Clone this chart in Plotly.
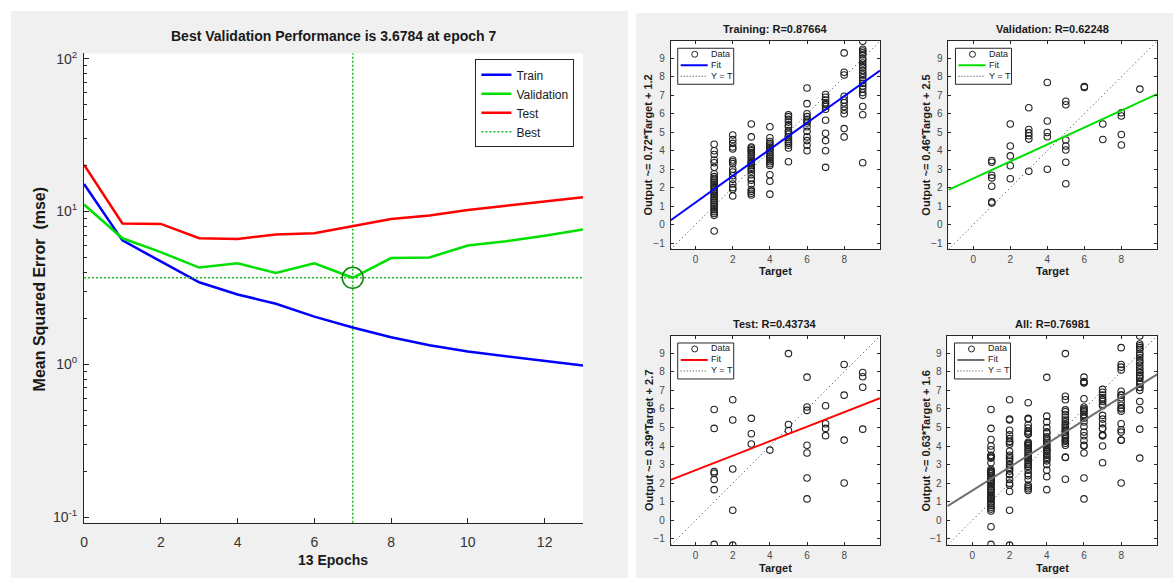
import plotly.graph_objects as go

W, H = 1173, 582
FONT = "Liberation Sans, Arial, Helvetica, sans-serif"

# ---------------- Performance plot data ----------------
epochs = [0, 1, 2, 3, 4, 5, 6, 7, 8, 9, 10, 11, 12, 13]
train_mse = [15.1, 6.46, 4.71, 3.44, 2.86, 2.49, 2.05, 1.74, 1.50, 1.33, 1.21, 1.13, 1.06, 0.98]
val_mse = [11.1, 6.67, 5.41, 4.29, 4.58, 3.95, 4.58, 3.6784, 4.95, 5.0, 5.98, 6.39, 6.94, 7.62]
test_mse = [20.2, 8.33, 8.28, 6.67, 6.6, 7.06, 7.21, 7.97, 8.91, 9.41, 10.2, 10.9, 11.6, 12.4]
best_epoch = 7
best_perf = 3.6784
perf_xticks = [0, 2, 4, 6, 8, 10, 12]
perf_yticks = [0.1, 1, 10, 100]
perf_yticktext = ["10<sup>-1</sup>", "10<sup>0</sup>", "10<sup>1</sup>", "10<sup>2</sup>"]

# ---------------- Regression plot data ----------------
target_levels = [1, 2, 3, 4, 5, 6, 7, 8, 9]
train_outputs = [
    [4.35, 4.0, 3.8, 3.5, 3.35, 3.1, 2.75, 2.6, 2.5, 2.4, 2.3, 2.2, 2.1, 2.0, 1.9, 1.8, 1.7,
     1.6, 1.5, 1.4, 1.3, 1.2, 1.1, 1.0, 0.9, 0.8, 0.7, 0.6, 0.5, -0.35],
    [4.85, 4.6, 4.4, 4.2, 4.1, 3.5, 3.4, 3.3, 3.0, 2.85, 2.65, 2.45, 2.2, 2.0, 1.9, 1.55],
    [5.45, 4.75, 4.2, 4.15, 4.05, 4.0, 3.9, 3.8, 3.7, 3.6, 3.5, 3.4, 3.35, 3.3, 3.2, 3.1,
     3.0, 2.9, 2.7, 2.5, 2.4, 2.2, 1.9, 1.8, 1.7, 1.6],
    [5.3, 4.7, 4.5, 4.4, 4.3, 4.2, 4.1, 4.0, 3.9, 3.8, 3.7, 3.6, 3.5, 3.4, 3.3, 3.2, 2.7, 2.35, 1.65],
    [5.95, 5.85, 5.7, 5.55, 5.4, 5.3, 5.1, 5.0, 4.9, 4.75, 4.6, 4.5, 4.4, 4.3, 4.15, 3.4],
    [7.4, 6.55, 6.0, 5.85, 5.7, 5.6, 5.5, 5.3, 5.05, 4.75, 4.55, 4.3, 4.0],
    [7.05, 6.9, 6.75, 6.6, 6.5, 6.4, 6.25, 5.65, 4.95, 4.55, 4.0, 3.1],
    [9.3, 8.25, 8.1, 6.95, 6.75, 6.6, 6.4, 6.2, 6.0, 5.2, 4.75],
    [9.93, 9.5, 9.4, 9.3, 9.2, 9.0, 8.9, 8.75, 8.6, 8.5, 8.35, 8.2, 8.1, 7.95, 7.8, 7.65,
     7.5, 7.35, 7.15, 7.0, 6.4, 5.95, 3.35],
]
val_outputs = [
    [3.47, 3.38, 2.67, 2.53, 2.08, 1.23, 1.17],
    [5.45, 4.26, 3.72, 3.19, 2.48],
    [6.33, 5.15, 4.97, 4.81, 4.63, 2.89],
    [7.7, 5.61, 4.99, 4.76, 3.0],
    [6.68, 6.49, 4.58, 4.26, 4.04, 3.38, 2.21],
    [7.48, 7.43],
    [5.45, 4.61],
    [6.06, 5.88, 4.88, 4.31],
    [7.34],
]
test_outputs = [
    [5.97, 4.95, 2.62, 2.53, 2.19, 1.65, -1.3],
    [6.49, 5.4, 2.76, 0.54, -1.34],
    [5.49, 4.66, 4.11],
    [3.78],
    [8.98, 5.16, 4.84],
    [7.71, 6.1, 5.92, 4.04, 3.62, 2.28, 1.15],
    [6.17, 5.2, 4.95, 4.56],
    [8.39, 6.74, 4.32, 2.01],
    [7.96, 7.73, 7.17, 4.91],
]
panel_names = ["Training", "Validation", "Test", "All"]
panel_r = ["0.87664", "0.62248", "0.43734", "0.76981"]
fit_slopes = [0.72, 0.46, 0.39, 0.63]
fit_intercepts = [1.2, 2.5, 2.7, 1.6]
fit_colors = ["#0000ff", "#00e000", "#ff0000", "#6e6e6e"]
axis_lim = [-1.34, 9.93]
reg_xticks = [0, 2, 4, 6, 8]
reg_yticks = [-1, 0, 1, 2, 3, 4, 5, 6, 7, 8, 9]


def flatten(levels, cols):
    xs, ys = [], []
    for t, col in zip(levels, cols):
        xs += [t] * len(col)
        ys += col
    return xs, ys


tr_x, tr_y = flatten(target_levels, train_outputs)
va_x, va_y = flatten(target_levels, val_outputs)
te_x, te_y = flatten(target_levels, test_outputs)
all_x, all_y = tr_x + va_x + te_x, tr_y + va_y + te_y
panel_data = [(tr_x, tr_y), (va_x, va_y), (te_x, te_y), (all_x, all_y)]


def px(x):
    return x / W


def py(y):
    return 1 - y / H


fig = go.Figure()

# ---------------- Performance traces ----------------
fig.add_trace(go.Scatter(x=epochs, y=train_mse, mode="lines", name="Train",
                         line=dict(color="#0000ff", width=2.5), xaxis="x", yaxis="y"))
fig.add_trace(go.Scatter(x=epochs, y=val_mse, mode="lines", name="Validation",
                         line=dict(color="#00e000", width=2.5), xaxis="x", yaxis="y"))
fig.add_trace(go.Scatter(x=epochs, y=test_mse, mode="lines", name="Test",
                         line=dict(color="#ff0000", width=2.5), xaxis="x", yaxis="y"))
fig.add_trace(go.Scatter(x=[epochs[0], epochs[-1]], y=[best_perf, best_perf], mode="lines",
                         name="Best", line=dict(color="#22bb22", width=1.5, dash="2px,2px"),
                         xaxis="x", yaxis="y"))
fig.add_trace(go.Scatter(x=[best_epoch], y=[best_perf], mode="markers", showlegend=False,
                         marker=dict(symbol="circle-open", size=21, color="#118811",
                                     line=dict(width=1.5, color="#118811")),
                         xaxis="x", yaxis="y"))

# ---------------- Regression panels ----------------
reg_axes = [("x2", "y2"), ("x3", "y3"), ("x4", "y4"), ("x5", "y5")]
reg_xdom = [(669, 879), (947.7, 1157), (669, 879), (946.7, 1157)]
reg_ydom = [(36.7, 247.3), (36.7, 247.3), (335, 546.7), (335, 546.7)]

for i in range(4):
    xa, ya = reg_axes[i]
    xs, ys = panel_data[i]
    fig.add_trace(go.Scatter(x=axis_lim, y=axis_lim, mode="lines", showlegend=False,
                             line=dict(color="#333333", width=1, dash="1px,3px"),
                             xaxis=xa, yaxis=ya))
    fig.add_trace(go.Scatter(x=xs, y=ys, mode="markers", showlegend=False,
                             marker=dict(symbol="circle-open", size=6.5, color="#222222",
                                         line=dict(width=1.1, color="#222222")),
                             xaxis=xa, yaxis=ya))
    fit_y = [fit_slopes[i] * v + fit_intercepts[i] for v in axis_lim]
    fig.add_trace(go.Scatter(x=axis_lim, y=fit_y, mode="lines", showlegend=False,
                             line=dict(color=fit_colors[i], width=2),
                             xaxis=xa, yaxis=ya))

# ---------------- Layout ----------------
axis_col = "#262626"
layout = dict(
    width=W, height=H, margin=dict(l=0, r=0, t=0, b=0),
    paper_bgcolor="white", plot_bgcolor="white",
    font=dict(family=FONT, color="#1a1a1a"),
    showlegend=True,
    legend=dict(x=px(473), y=py(55), xanchor="left", yanchor="top", bgcolor="white",
                bordercolor=axis_col, borderwidth=1, font=dict(size=12, color="#1a1a1a"),
                traceorder="normal", itemwidth=30),
    xaxis=dict(domain=[px(80.3), px(581)], range=[epochs[0], epochs[-1]], tickmode="array",
               tickvals=perf_xticks, ticks="inside", ticklen=5, tickcolor=axis_col,
               showline=True, linecolor=axis_col, linewidth=1, mirror=False,
               showgrid=False, zeroline=False, ticklabelstandoff=7,
               tickfont=dict(size=14, color="#333333"), anchor="y"),
    yaxis=dict(domain=[py(524), py(49)], type="log", range=[-1.037, 2.034], tickmode="array",
               tickvals=perf_yticks, ticktext=perf_yticktext, ticks="inside", ticklen=5,
               tickcolor=axis_col, showline=True, linecolor=axis_col, linewidth=1,
               mirror=False, showgrid=False, zeroline=False, ticklabelstandoff=3,
               tickfont=dict(size=14, color="#333333"), anchor="x",
               minor=dict(ticks="inside", ticklen=3, tickcolor=axis_col, tickmode="array",
                          tickvals=[m * 10 ** e for e in (-1, 0, 1) for m in range(2, 10)],
                          showgrid=False)),
)
for i in range(4):
    xa, ya = reg_axes[i]
    xn = "xaxis" + xa[1:]
    yn = "yaxis" + ya[1:]
    layout[xn] = dict(domain=[px(reg_xdom[i][0]), px(reg_xdom[i][1])], range=axis_lim,
                      tickmode="array", tickvals=reg_xticks, ticks="inside", ticklen=3,
                      tickcolor=axis_col, showline=True, linecolor=axis_col, linewidth=1,
                      mirror="allticks", showgrid=False, zeroline=False, anchor=ya,
                      ticklabelstandoff=1, tickfont=dict(size=10, color="#4a4a4a"))
    layout[yn] = dict(domain=[py(reg_ydom[i][1]), py(reg_ydom[i][0])], range=axis_lim,
                      tickmode="array", tickvals=reg_yticks, ticks="inside", ticklen=3,
                      tickcolor=axis_col, showline=True, linecolor=axis_col, linewidth=1,
                      mirror="allticks", showgrid=False, zeroline=False, anchor=xa,
                      ticklabelstandoff=3, tickfont=dict(size=10, color="#4a4a4a"))

shapes = []
# grey figure panels
shapes.append(dict(type="rect", xref="paper", yref="paper", x0=px(7), x1=px(626),
                   y0=py(580), y1=py(6), fillcolor="#f0f0f0", line=dict(width=0), layer="below"))
shapes.append(dict(type="rect", xref="paper", yref="paper", x0=px(634), x1=px(1173),
                   y0=py(580), y1=py(8), fillcolor="#f0f0f0", line=dict(width=0), layer="below"))
# white axes backgrounds
for xa, ya in [("x", "y")] + reg_axes:
    shapes.append(dict(type="rect", xref=xa + " domain", yref=ya + " domain", x0=0, x1=1,
                       y0=0, y1=1, fillcolor="white", line=dict(width=0), layer="below"))
# best epoch vertical line
shapes.append(dict(type="line", xref="x", yref="y domain", x0=best_epoch, x1=best_epoch,
                   y0=0, y1=1, line=dict(color="#22bb22", width=1.5, dash="2px,2px"),
                   layer="below"))

annotations = []


def ann(text, x, y, size, bold=True, angle=0, color="#1a1a1a"):
    annotations.append(dict(text=("<b>%s</b>" % text) if bold else text, x=px(x), y=py(y),
                            xref="paper", yref="paper", showarrow=False, xanchor="center",
                            yanchor="middle", textangle=angle,
                            font=dict(size=size, color=color, family=FONT)))


ann("Best Validation Performance is %.4f at epoch %d" % (best_perf, best_epoch), 330.6, 31, 14)
ann("%d Epochs" % epochs[-1], 330.6, 562, 14)
ann("Mean Squared Error  (mse)", 36, 287, 16, angle=-90)

title_pos = [(774, 24.5), (1052, 24.5), (774, 323), (1052, 323)]
xlab_pos = [(774, 269.5), (1052, 269.5), (774, 570), (1052, 570)]
ylab_pos = [(646.5, 142), (925.5, 142), (646.5, 441), (925, 441)]

for i in range(4):
    ann("%s: R=%s" % (panel_names[i], panel_r[i]), *title_pos[i], 11)
    ann("Target", *xlab_pos[i], 11)
    ann("Output ~= %s*Target + %s" % (fit_slopes[i], fit_intercepts[i]), *ylab_pos[i], 11,
        angle=-90)
    xa, ya = reg_axes[i]
    xr, yr = xa + " domain", ya + " domain"
    # legend box
    shapes.append(dict(type="rect", xref=xr, yref=yr, xsizemode="pixel", ysizemode="pixel",
                       xanchor=0, yanchor=1, x0=7, x1=63, y0=-7, y1=-43,
                       fillcolor="white", line=dict(color=axis_col, width=1), layer="above"))
    shapes.append(dict(type="circle", xref=xr, yref=yr, xsizemode="pixel", ysizemode="pixel",
                       xanchor=0, yanchor=1, x0=21, x1=27, y0=-10, y1=-16,
                       line=dict(color="#222222", width=1), layer="above"))
    shapes.append(dict(type="line", xref=xr, yref=yr, xsizemode="pixel", ysizemode="pixel",
                       xanchor=0, yanchor=1, x0=10, x1=37, y0=-24, y1=-24,
                       line=dict(color=fit_colors[i], width=2), layer="above"))
    shapes.append(dict(type="line", xref=xr, yref=yr, xsizemode="pixel", ysizemode="pixel",
                       xanchor=0, yanchor=1, x0=10, x1=37, y0=-35, y1=-35,
                       line=dict(color="#333333", width=1, dash="1px,2px"), layer="above"))
    for txt, dy in [("Data", -12.5), ("Fit", -23.5), ("Y = T", -34.5)]:
        annotations.append(dict(text=txt, xref=xr, yref=yr, x=0, y=1, xshift=38.5, yshift=dy,
                                xanchor="left", yanchor="middle", showarrow=False,
                                font=dict(size=9, color="#1a1a1a", family=FONT)))

layout["shapes"] = shapes
layout["annotations"] = annotations
fig.update_layout(**layout)

fig.write_html("out.html", config={"displayModeBar": False},
               post_script="document.body.style.margin='0px';"
                           "document.body.style.overflow='hidden';")
